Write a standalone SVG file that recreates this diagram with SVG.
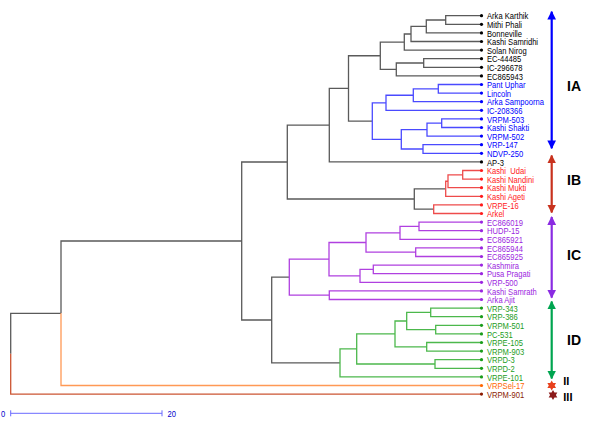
<svg xmlns="http://www.w3.org/2000/svg" width="600" height="426" viewBox="0 0 600 426">
<style>
.br{fill:none;stroke-width:1.3}
.gy{stroke:#5a5a5a}.bl{stroke:#4a4aff}.rd{stroke:#ee4b4b}.pu{stroke:#b040e0}.gr{stroke:#4cb84c}.or{stroke:#ff9955}.bn{stroke:#cc5533}
text{font-family:"Liberation Sans",Arial,sans-serif}
.lb{font-size:9.5px}
.k{fill:#000}.b{fill:#0000ff}.r{fill:#ff1a1a}.p{fill:#9b26e0}.g{fill:#1a9c1a}.o{fill:#ff6600}.n{fill:#8b1a00}
.cl{font-size:14px;font-weight:bold;fill:#000}
.cs{font-size:11px;font-weight:bold;fill:#000}
.ar{stroke-width:2.2;fill:none}
</style>
<defs>
<marker id="mB" viewBox="0 0 10 10" refX="9" refY="5" markerWidth="4" markerHeight="4" orient="auto-start-reverse"><path d="M0,0 L10,5 L0,10 z" fill="#0000ff"/></marker>
<marker id="mR" viewBox="0 0 10 10" refX="9" refY="5" markerWidth="4" markerHeight="4" orient="auto-start-reverse"><path d="M0,0 L10,5 L0,10 z" fill="#c8321e"/></marker>
<marker id="mP" viewBox="0 0 10 10" refX="9" refY="5" markerWidth="4" markerHeight="4" orient="auto-start-reverse"><path d="M0,0 L10,5 L0,10 z" fill="#8a2be2"/></marker>
<marker id="mG" viewBox="0 0 10 10" refX="9" refY="5" markerWidth="4" markerHeight="4" orient="auto-start-reverse"><path d="M0,0 L10,5 L0,10 z" fill="#00a550"/></marker>
<polygon id="star" points="0,-5 1.45,-2.5 4.33,-2.5 2.9,0 4.33,2.5 1.45,2.5 0,5 -1.45,2.5 -4.33,2.5 -2.9,0 -4.33,-2.5 -1.45,-2.5"/>
</defs>
<rect width="600" height="426" fill="#fff"/>
<g id="connectors">
<path class="br gy" d="M481 15.7H445.7V24.3H481 M445.7 20H426.3V32.9H481 M426.3 26.45H411V41.5H481 M411 34H404.3V50.1H481 M481 58.7H423.7V67.3H481 M423.7 63H396.3V75.9H481 M404.3 42.05H380.3V69.45H396.3 M380.3 55.75H348.5V121.05H372.3 M348.5 88.4H329.3V161.9H481 M329.3 125.15H287.3V199H414.3 M445.7 188.8H414.3V209.2H433.7 M289.3 277.2H271.7V362.9H340 M287.3 162H241.7V320H271.7 M241.7 241H61V313.3 M61 313.3H10.7V353.7"/>
<path class="br or" d="M61 313.3V385.5H481"/>
<path class="br bn" d="M10.7 353.7V394.1H481"/>
<path class="br bl" d="M481 84.5H438.3V93.1H481 M438.3 88.8H413.3V101.7H481 M413.3 95.25H386V110.3H481 M481 118.9H441.7V127.5H481 M441.7 123.2H427V136.1H481 M481 144.7H423V153.3H481 M427 129.65H401.3V149H423 M386 102.8H372.3V139.3H401.3"/>
<path class="br rd" d="M481 170.5H462.7V179.1H481 M462.7 174.8H448V187.7H481 M448 181.25H445.7V196.3H481 M481 204.9H433.7V213.5H481"/>
<path class="br pu" d="M481 222.1H419V230.7H481 M419 226.4H400V239.3H481 M481 247.9H415.7V256.5H481 M400 232.85H366V252.2H415.7 M481 265.1H373.3V273.7H481 M373.3 269.4H360V282.3H481 M366 242.5H329V275.85H360 M481 290.9H329.3V299.5H481 M329 259.2H289.3V295.2H329.3"/>
<path class="br gr" d="M481 308.1H430.7V316.7H481 M481 325.3H435.7V333.9H481 M430.7 312.4H406.7V329.6H435.7 M481 342.5H426.7V351.1H481 M406.7 321H395V346.8H426.7 M481 359.7H435V368.3H481 M395 333.9H356.7V364H435 M356.7 348.95H340V376.9H481"/>
</g>
<g id="leaves">
<g id="n1"><circle cx="481.5" cy="15.7" r="1.6" class="k"/><text class="lb k" transform="translate(487,19.3) scale(0.8,1)">Arka Karthik</text></g>
<g id="n2"><circle cx="481.5" cy="24.3" r="1.6" class="k"/><text class="lb k" transform="translate(487,27.9) scale(0.8,1)">Mithi Phali</text></g>
<g id="n3"><circle cx="481.5" cy="32.9" r="1.6" class="k"/><text class="lb k" transform="translate(487,36.5) scale(0.8,1)">Bonneville</text></g>
<g id="n4"><circle cx="481.5" cy="41.5" r="1.6" class="k"/><text class="lb k" transform="translate(487,45.1) scale(0.8,1)">Kashi Samridhi</text></g>
<g id="n5"><circle cx="481.5" cy="50.1" r="1.6" class="k"/><text class="lb k" transform="translate(487,53.7) scale(0.8,1)">Solan Nirog</text></g>
<g id="n6"><circle cx="481.5" cy="58.7" r="1.6" class="k"/><text class="lb k" transform="translate(487,62.3) scale(0.8,1)">EC-44485</text></g>
<g id="n7"><circle cx="481.5" cy="67.3" r="1.6" class="k"/><text class="lb k" transform="translate(487,70.9) scale(0.8,1)">IC-296678</text></g>
<g id="n8"><circle cx="481.5" cy="75.9" r="1.6" class="k"/><text class="lb k" transform="translate(487,79.5) scale(0.8,1)">EC865943</text></g>
<g id="n9"><circle cx="481.5" cy="84.5" r="1.6" class="b"/><text class="lb b" transform="translate(487,88.1) scale(0.8,1)">Pant Uphar</text></g>
<g id="n10"><circle cx="481.5" cy="93.1" r="1.6" class="b"/><text class="lb b" transform="translate(487,96.7) scale(0.8,1)">Lincoln</text></g>
<g id="n11"><circle cx="481.5" cy="101.7" r="1.6" class="b"/><text class="lb b" transform="translate(487,105.3) scale(0.8,1)">Arka Sampoorna</text></g>
<g id="n12"><circle cx="481.5" cy="110.3" r="1.6" class="b"/><text class="lb b" transform="translate(487,113.9) scale(0.8,1)">IC-208366</text></g>
<g id="n13"><circle cx="481.5" cy="118.9" r="1.6" class="b"/><text class="lb b" transform="translate(487,122.5) scale(0.8,1)">VRPM-503</text></g>
<g id="n14"><circle cx="481.5" cy="127.5" r="1.6" class="b"/><text class="lb b" transform="translate(487,131.1) scale(0.8,1)">Kashi Shakti</text></g>
<g id="n15"><circle cx="481.5" cy="136.1" r="1.6" class="b"/><text class="lb b" transform="translate(487,139.7) scale(0.8,1)">VRPM-502</text></g>
<g id="n16"><circle cx="481.5" cy="144.7" r="1.6" class="b"/><text class="lb b" transform="translate(487,148.3) scale(0.8,1)">VRP-147</text></g>
<g id="n17"><circle cx="481.5" cy="153.3" r="1.6" class="b"/><text class="lb b" transform="translate(487,156.9) scale(0.8,1)">NDVP-250</text></g>
<g id="n18"><circle cx="481.5" cy="161.9" r="1.6" class="k"/><text class="lb k" transform="translate(487,165.5) scale(0.8,1)">AP-3</text></g>
<g id="n19"><circle cx="481.5" cy="170.5" r="1.6" class="r"/><text class="lb r" transform="translate(487,174.1) scale(0.8,1)" xml:space="preserve">Kashi  Udai</text></g>
<g id="n20"><circle cx="481.5" cy="179.1" r="1.6" class="r"/><text class="lb r" transform="translate(487,182.7) scale(0.8,1)">Kashi Nandini</text></g>
<g id="n21"><circle cx="481.5" cy="187.7" r="1.6" class="r"/><text class="lb r" transform="translate(487,191.3) scale(0.8,1)">Kashi Mukti</text></g>
<g id="n22"><circle cx="481.5" cy="196.3" r="1.6" class="r"/><text class="lb r" transform="translate(487,199.9) scale(0.8,1)">Kashi Ageti</text></g>
<g id="n23"><circle cx="481.5" cy="204.9" r="1.6" class="r"/><text class="lb r" transform="translate(487,208.5) scale(0.8,1)">VRPE-16</text></g>
<g id="n24"><circle cx="481.5" cy="213.5" r="1.6" class="r"/><text class="lb r" transform="translate(487,217.1) scale(0.8,1)">Arkel</text></g>
<g id="n25"><circle cx="481.5" cy="222.1" r="1.6" class="p"/><text class="lb p" transform="translate(487,225.7) scale(0.8,1)">EC866019</text></g>
<g id="n26"><circle cx="481.5" cy="230.7" r="1.6" class="p"/><text class="lb p" transform="translate(487,234.3) scale(0.8,1)">HUDP-15</text></g>
<g id="n27"><circle cx="481.5" cy="239.3" r="1.6" class="p"/><text class="lb p" transform="translate(487,242.9) scale(0.8,1)">EC865921</text></g>
<g id="n28"><circle cx="481.5" cy="247.9" r="1.6" class="p"/><text class="lb p" transform="translate(487,251.5) scale(0.8,1)">EC865944</text></g>
<g id="n29"><circle cx="481.5" cy="256.5" r="1.6" class="p"/><text class="lb p" transform="translate(487,260.1) scale(0.8,1)">EC865925</text></g>
<g id="n30"><circle cx="481.5" cy="265.1" r="1.6" class="p"/><text class="lb p" transform="translate(487,268.7) scale(0.8,1)">Kashmira</text></g>
<g id="n31"><circle cx="481.5" cy="273.7" r="1.6" class="p"/><text class="lb p" transform="translate(487,277.3) scale(0.8,1)">Pusa Pragati</text></g>
<g id="n32"><circle cx="481.5" cy="282.3" r="1.6" class="p"/><text class="lb p" transform="translate(487,285.9) scale(0.8,1)">VRP-500</text></g>
<g id="n33"><circle cx="481.5" cy="290.9" r="1.6" class="p"/><text class="lb p" transform="translate(487,294.5) scale(0.8,1)">Kashi Samrath</text></g>
<g id="n34"><circle cx="481.5" cy="299.5" r="1.6" class="p"/><text class="lb p" transform="translate(487,303.1) scale(0.8,1)">Arka Ajit</text></g>
<g id="n35"><circle cx="481.5" cy="308.1" r="1.6" class="g"/><text class="lb g" transform="translate(487,311.7) scale(0.8,1)">VRP-343</text></g>
<g id="n36"><circle cx="481.5" cy="316.7" r="1.6" class="g"/><text class="lb g" transform="translate(487,320.3) scale(0.8,1)">VRP-386</text></g>
<g id="n37"><circle cx="481.5" cy="325.3" r="1.6" class="g"/><text class="lb g" transform="translate(487,328.9) scale(0.8,1)">VRPM-501</text></g>
<g id="n38"><circle cx="481.5" cy="333.9" r="1.6" class="g"/><text class="lb g" transform="translate(487,337.5) scale(0.8,1)">PC-531</text></g>
<g id="n39"><circle cx="481.5" cy="342.5" r="1.6" class="g"/><text class="lb g" transform="translate(487,346.1) scale(0.8,1)">VRPE-105</text></g>
<g id="n40"><circle cx="481.5" cy="351.1" r="1.6" class="g"/><text class="lb g" transform="translate(487,354.7) scale(0.8,1)">VRPM-903</text></g>
<g id="n41"><circle cx="481.5" cy="359.7" r="1.6" class="g"/><text class="lb g" transform="translate(487,363.3) scale(0.8,1)">VRPD-3</text></g>
<g id="n42"><circle cx="481.5" cy="368.3" r="1.6" class="g"/><text class="lb g" transform="translate(487,371.9) scale(0.8,1)">VRPD-2</text></g>
<g id="n43"><circle cx="481.5" cy="376.9" r="1.6" class="g"/><text class="lb g" transform="translate(487,380.5) scale(0.8,1)">VRPE-101</text></g>
<g id="n44"><circle cx="481.5" cy="385.5" r="1.6" class="o"/><text class="lb o" transform="translate(487,389.1) scale(0.8,1)">VRPSel-17</text></g>
<g id="n45"><circle cx="481.5" cy="394.1" r="1.6" class="n"/><text class="lb n" transform="translate(487,397.7) scale(0.8,1)">VRPM-901</text></g>
</g>
<g id="groups">
<g id="gIA"><line class="ar" x1="551.7" y1="11.7" x2="551.7" y2="148.3" stroke="#0000ff" marker-start="url(#mB)" marker-end="url(#mB)"/><text class="cl" x="567" y="91">IA</text></g>
<g id="gIB"><line class="ar" x1="551.7" y1="155.5" x2="551.7" y2="212.5" stroke="#c8321e" marker-start="url(#mR)" marker-end="url(#mR)"/><text class="cl" x="567" y="184.5">IB</text></g>
<g id="gIC"><line class="ar" x1="551.7" y1="217" x2="551.7" y2="297.7" stroke="#8a2be2" marker-start="url(#mP)" marker-end="url(#mP)"/><text class="cl" x="567" y="260">IC</text></g>
<g id="gID"><line class="ar" x1="551.7" y1="301.5" x2="551.7" y2="378.5" stroke="#00a550" marker-start="url(#mG)" marker-end="url(#mG)"/><text class="cl" x="567" y="345">ID</text></g>
<g id="gII"><use href="#star" x="551.7" y="385.5" fill="#e8401c"/><text class="cs" x="563.3" y="385">II</text></g>
<g id="gIII"><use href="#star" x="553" y="395" fill="#8b1a1a"/><text class="cs" x="563.3" y="400.5">III</text></g>
</g>
<g id="scale">
<path d="M10.7 413.3H162 M10.7 410.3V416.3 M162 410.3V416.3" stroke="#6b6bff" stroke-width="1" fill="none"/>
<text class="lb" fill="#0000cc" transform="translate(1,417) scale(0.8,1)">0</text>
<text class="lb" fill="#0000cc" transform="translate(167.5,417) scale(0.8,1)">20</text>
</g>
</svg>
